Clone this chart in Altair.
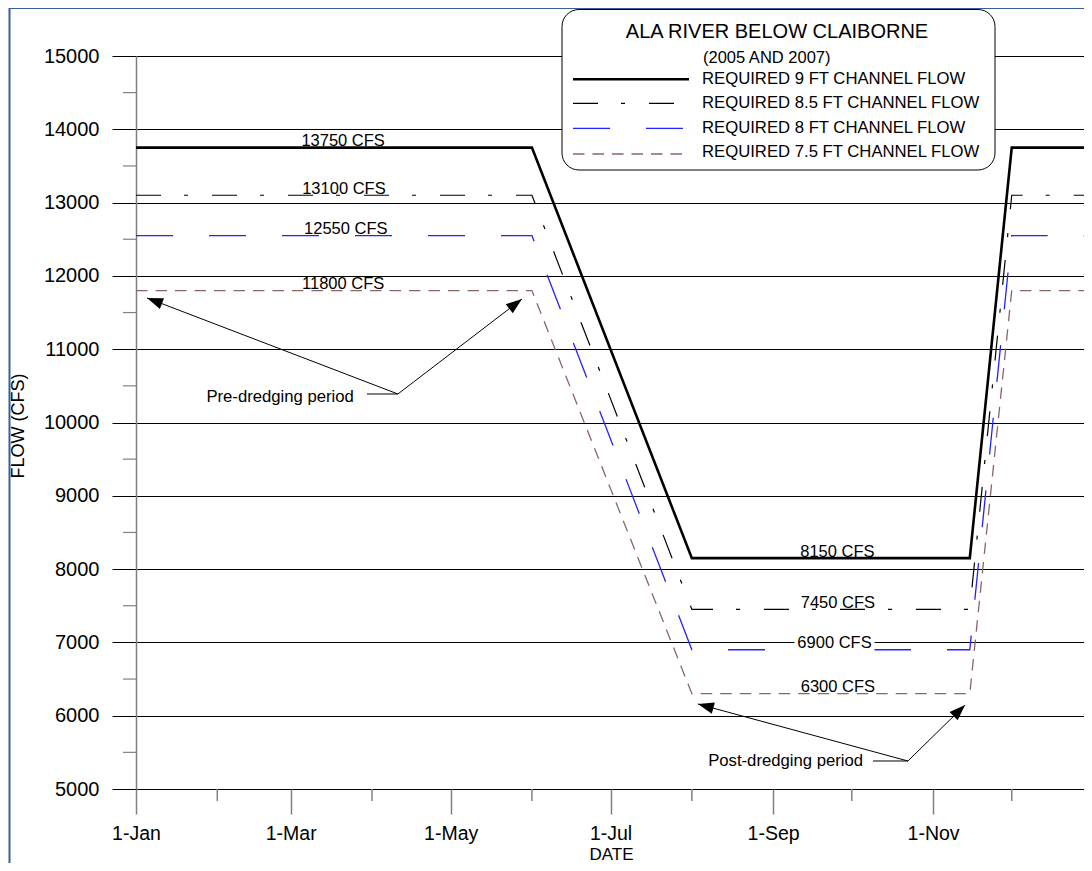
import math
import altair as alt
import pandas as pd

FONT = "Liberation Sans"

# ---------------- data ----------------
days = [0, 151, 212, 318, 334, 365]
flow_9ft = [13750, 13750, 8150, 8150, 13750, 13750]
flow_85ft = [13100, 13100, 7450, 7450, 13100, 13100]
flow_8ft = [12550, 12550, 6900, 6900, 12550, 12550]
flow_75ft = [11800, 11800, 6300, 6300, 11800, 11800]
series_names = [
    "REQUIRED 9 FT CHANNEL FLOW",
    "REQUIRED 8.5 FT CHANNEL FLOW",
    "REQUIRED 8 FT CHANNEL FLOW",
    "REQUIRED 7.5 FT CHANNEL FLOW",
]

major_tick_days = [0, 59, 120, 181, 243, 304]
major_tick_labels = ["1-Jan", "1-Mar", "1-May", "1-Jul", "1-Sep", "1-Nov"]
minor_tick_days = [31, 90, 151, 212, 273, 334]
y_major = [5000, 6000, 7000, 8000, 9000, 10000, 11000, 12000, 13000, 14000, 15000]
y_minor = [5500, 6500, 7500, 8500, 9500, 10500, 11500, 12500, 13500, 14500]

label_texts = ["13750 CFS", "13100 CFS", "12550 CFS", "11800 CFS",
               "8150 CFS", "7450 CFS", "6900 CFS", "6300 CFS"]
label_days = [79, 79.3, 80, 79, 267.5, 267.7, 266.4, 267.7]
label_flows = [13750, 13100, 12550, 11800, 8150, 7450, 6900, 6300]
label_boxed = [False, False, False, False, False, False, True, False]

annot_texts = ["Pre-dredging period", "Post-dredging period"]
annot_text_days = [83.1, 277.3]
annot_text_flows = [10350, 5382]
annot_vertex_days = [99.9, 294.4]
annot_vertex_flows = [10389, 5382]
annot_leader_days = [88.1, 281.1]
arrow_group = [0, 0, 1, 1]
arrow_tip_days = [4.2, 147.2, 214.3, 316.2]
arrow_tip_flows = [11699, 11685, 6160, 6146]

# ---------------- layout ----------------
W, H = 948, 733
XMAX = 361.56
YMIN, YMAX = 5000, 15000
PX_DAY = W / XMAX
PX_FLOW = H / (YMAX - YMIN)

xs = alt.Scale(domain=[0, XMAX], nice=False, zero=False)
ys = alt.Scale(domain=[YMIN, YMAX], nice=False, zero=False)

one = pd.DataFrame({"a": [0]})

label_expr = " : ".join(
    f"datum.value == {d} ? '{l}'" for d, l in zip(major_tick_days, major_tick_labels)
) + " : ''"

x_axis = alt.Axis(
    values=major_tick_days, labelExpr=label_expr, grid=False, domain=False,
    ticks=True, tickColor="#808080", tickWidth=1.5, tickSize=25,
    labelFont=FONT, labelFontSize=19.5, labelColor="black", labelPadding=10,
    labelFlush=False, labelOverlap=False,
    title="DATE", titleFont=FONT, titleFontSize=17, titleFontWeight="normal",
    titleColor="black", titleX=475, titleY=70, titleBaseline="alphabetic", titleAlign="center",
)
y_axis = alt.Axis(
    values=y_major, format="d", grid=True, gridColor="black", gridWidth=1, gridOpacity=1,
    domain=True, domainColor="#808080", domainWidth=1.5,
    tickColor="black", tickWidth=1, tickSize=24,
    labelFont=FONT, labelFontSize=20, labelColor="black", labelPadding=13, labelFlush=False,
    title="FLOW (CFS)", titleFont=FONT, titleFontSize=18, titleFontWeight="normal",
    titleColor="black", titleX=-118, titleY=H / 2 + 3, titleAngle=270,
    titleAlign="center", titleBaseline="middle",
)


def X(field):
    return alt.X(field, scale=xs, axis=x_axis)


def Y(field):
    return alt.Y(field, scale=ys, axis=y_axis)


layers = []

# outer frame (decoration)
layers.append(
    alt.Chart(one).mark_rect(fillOpacity=0, stroke="#3b5f9c", strokeWidth=2).encode(
        x=alt.value(-126.5), x2=alt.value(1000), y=alt.value(-48), y2=alt.value(900)
    )
)

# series lines
styles = [
    dict(color="#000000", strokeWidth=2.6),
    dict(color="#000000", strokeWidth=1.2, strokeDash=[25, 23, 4, 24]),
    dict(color="#2222ff", strokeWidth=1.3, strokeDash=[37, 36]),
    dict(color="#8c6464", strokeWidth=1.3, strokeDash=[11.5, 8]),
]
flows_all = [flow_9ft, flow_85ft, flow_8ft, flow_75ft]
for i, (flows, st) in enumerate(zip(flows_all, styles)):
    df = pd.DataFrame({"day": days, "flow": flows})
    layers.append(alt.Chart(df).mark_line(clip=True, **st).encode(x=X("day:Q"), y=Y("flow:Q")))

# minor ticks
layers.append(
    alt.Chart(pd.DataFrame({"day": minor_tick_days})).mark_rule(color="#808080", strokeWidth=1.5).encode(
        x=X("day:Q"), y=alt.value(H), y2=alt.value(H + 12)
    )
)
layers.append(
    alt.Chart(pd.DataFrame({"flow": y_minor})).mark_rule(color="#808080", strokeWidth=1.2).encode(
        y=Y("flow:Q"), x=alt.value(-13), x2=alt.value(0)
    )
)

# value labels
lab = pd.DataFrame({"day": label_days, "flow": label_flows, "text": label_texts, "boxed": label_boxed})
layers.append(
    alt.Chart(lab[lab["boxed"]]).mark_tick(
        orient="horizontal", size=80, thickness=16, color="white", opacity=1
    ).encode(
        x=X("day:Q"), y=Y("flow:Q"), yOffset=alt.value(-6),
    )
)
layers.append(
    alt.Chart(lab).mark_text(
        font=FONT, fontSize=16.5, color="black", align="center", baseline="alphabetic", dy=-1.5
    ).encode(
        x=X("day:Q"), y=Y("flow:Q"), text="text:N"
    )
)

# annotations: texts, leaders, arrows
ann = pd.DataFrame({
    "day": annot_text_days, "flow": annot_text_flows, "text": annot_texts,
    "lx": annot_leader_days, "vx": annot_vertex_days, "vy": annot_vertex_flows,
})
layers.append(
    alt.Chart(ann).mark_text(font=FONT, fontSize=16.7, color="black", align="right", baseline="middle").encode(
        x=X("day:Q"), y=Y("flow:Q"), text="text:N"
    )
)
layers.append(
    alt.Chart(ann).mark_rule(color="black", strokeWidth=1).encode(
        x=X("lx:Q"), x2="vx:Q", y=Y("vy:Q")
    )
)
arr_rows = []
for g, td, tf in zip(arrow_group, arrow_tip_days, arrow_tip_flows):
    vd, vf = annot_vertex_days[g], annot_vertex_flows[g]
    dx = (td - vd) * PX_DAY
    dy = -(tf - vf) * PX_FLOW
    ang = math.degrees(math.atan2(dx, -dy)) % 360
    arr_rows.append({"vx": vd, "vy": vf, "tx": td, "ty": tf, "ang": ang})
arr = pd.DataFrame(arr_rows)
layers.append(
    alt.Chart(arr).mark_rule(color="black", strokeWidth=1).encode(
        x=X("vx:Q"), x2="tx:Q", y=Y("vy:Q"), y2="ty:Q",
    )
)
layers.append(
    alt.Chart(arr).mark_point(
        shape="M0,0 L-0.36,1 L0.36,1 Z", size=1024, filled=True, color="black", opacity=1
    ).encode(
        x=X("tx:Q"), y=Y("ty:Q"), angle=alt.Angle("ang:Q", scale=None),
    )
)

# legend box
layers.append(
    alt.Chart(one).mark_rect(fill="white", stroke="black", strokeWidth=1, cornerRadius=17).encode(
        x=alt.value(426), x2=alt.value(859), y=alt.value(-46.5), y2=alt.value(114)
    )
)
layers.append(
    alt.Chart(one).mark_text(font=FONT, fontSize=20, color="black", align="center", baseline="middle").encode(
        x=alt.value(641), y=alt.value(-24.3), text=alt.value("ALA RIVER BELOW CLAIBORNE")
    )
)
layers.append(
    alt.Chart(one).mark_text(font=FONT, fontSize=16.5, color="black", align="left", baseline="middle").encode(
        x=alt.value(567), y=alt.value(2.3), text=alt.value("(2005 AND 2007)")
    )
)
leg_y = [23.3, 47.3, 71.7, 96.3]
leg_sym_y = [23.3, 47.3, 72.3, 98]
leg_x2 = [553, 553, 553, 548]
for i, name in enumerate(series_names):
    st = dict(styles[i])
    layers.append(
        alt.Chart(one).mark_rule(**st).encode(
            x=alt.value(437), x2=alt.value(leg_x2[i]), y=alt.value(leg_sym_y[i])
        )
    )
    layers.append(
        alt.Chart(one).mark_text(font=FONT, fontSize=16.7, color="black", align="left", baseline="middle").encode(
            x=alt.value(566), y=alt.value(leg_y[i]), text=alt.value(name)
        )
    )

chart = alt.layer(*layers).properties(
    width=W, height=H,
    padding={"left": 128, "top": 48, "right": 0, "bottom": 74},
    autosize=alt.AutoSizeParams(type="none"),
    background="white",
).configure_view(stroke=None)

chart.save("out.html", embed_options={"renderer": "svg", "actions": False})
